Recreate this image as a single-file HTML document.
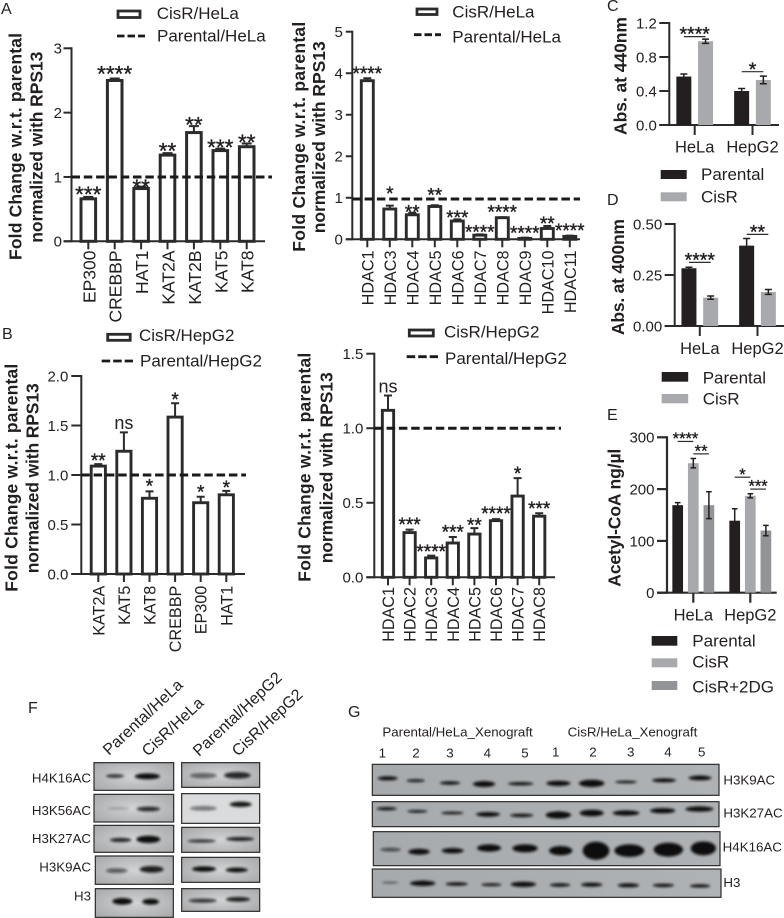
<!DOCTYPE html>
<html lang="en">
<head>
<meta charset="utf-8">
<title>Histone acetylation figure panels</title>
<style>
html,body{margin:0;padding:0;background:#fff;}
svg{display:block;font-family:"Liberation Sans",sans-serif;fill:#231f20;}
.bt{font-weight:bold;font-size:17.5px;}
.lg{font-size:17px;}
.bx{stroke:#2b2b2b;stroke-width:3.6;}
.ft{font-size:13.3px;}
</style>
</head>
<body>
<svg id="fig" xmlns="http://www.w3.org/2000/svg" width="784" height="918" viewBox="0 0 784 918">
<defs>
<filter id="blur" x="-10%" y="-10%" width="120%" height="120%"><feGaussianBlur stdDeviation="3.6"/></filter>
<radialGradient id="fblot" cx="50%" cy="50%" r="70%"><stop offset="0" stop-color="#d2d3d4"/><stop offset="1" stop-color="#a5a7a9"/></radialGradient>
<linearGradient id="gblot" x1="0" x2="1" y1="0" y2="0"><stop offset="0" stop-color="#a6aaad"/><stop offset="1" stop-color="#aeb2b4"/></linearGradient>
</defs>
<rect width="784" height="918" fill="#fff"/>

<g font-size="16">
<text x="1" y="14">A</text>
<text x="2" y="339">B</text>
<text x="607" y="11">C</text>
<text x="607" y="205">D</text>
<text x="607" y="420">E</text>
<text x="28" y="713">F</text>
<text x="348" y="717">G</text>
</g>

<g>
<text class="bt" transform="translate(21.7 260) rotate(-90)" textLength="227">Fold Change w.r.t. parental</text>
<text class="bt" transform="translate(42.5 242.7) rotate(-90)" textLength="191">normalized with RPS13</text>
<text class="bt" transform="translate(305 251.7) rotate(-90)" textLength="230">Fold Change w.r.t. parental</text>
<text class="bt" transform="translate(325 233.3) rotate(-90)" textLength="192">normalized with RPS13</text>
<text class="bt" transform="translate(17.3 591.7) rotate(-90)" textLength="228">Fold Change w.r.t. parental</text>
<text class="bt" transform="translate(38.3 573.3) rotate(-90)" textLength="190">normalized with RPS13</text>
<text class="bt" transform="translate(310.7 581.7) rotate(-90)" textLength="229">Fold Change w.r.t. parental</text>
<text class="bt" transform="translate(332.3 563.3) rotate(-90)" textLength="191">normalized with RPS13</text>
<text class="bt" transform="translate(626.7 135) rotate(-90)" textLength="118">Abs. at 440nm</text>
<text class="bt" transform="translate(624 335) rotate(-90)" textLength="116">Abs. at 400nm</text>
<text class="bt" transform="translate(620.7 586.7) rotate(-90)" textLength="138">Acetyl-CoA ng/µl</text>
</g>

<g>
<rect x="118" y="11" width="22" height="6.5" fill="#fff" stroke="#2b2b2b" stroke-width="2.8"/>
<text class="lg" x="156.7" y="19">CisR/HeLa</text>
<line x1="117" x2="145" y1="36" y2="36" stroke="#1a1a1a" stroke-width="2.8" stroke-dasharray="7.5 3"/>
<text class="lg" x="157" y="41.3">Parental/HeLa</text>
</g>
<g>
<rect x="417" y="9" width="20" height="5.5" fill="#fff" stroke="#2b2b2b" stroke-width="2.8"/>
<text class="lg" x="452.3" y="17.3">CisR/HeLa</text>
<line x1="414" x2="441" y1="34.7" y2="34.7" stroke="#1a1a1a" stroke-width="2.8" stroke-dasharray="7.5 3"/>
<text class="lg" x="452.3" y="42.3">Parental/HeLa</text>
</g>
<g>
<rect x="107.7" y="334.3" width="22.5" height="6" fill="#fff" stroke="#2b2b2b" stroke-width="2.8"/>
<text class="lg" x="139" y="341">CisR/HepG2</text>
<line x1="101.7" x2="133" y1="361" y2="361" stroke="#1a1a1a" stroke-width="2.8" stroke-dasharray="8.5 3"/>
<text class="lg" x="140" y="366.7">Parental/HepG2</text>
</g>
<g>
<rect x="409.3" y="330" width="24" height="6" fill="#fff" stroke="#2b2b2b" stroke-width="2.8"/>
<text class="lg" x="444" y="337.3">CisR/HepG2</text>
<line x1="406.7" x2="438" y1="356.7" y2="356.7" stroke="#1a1a1a" stroke-width="2.8" stroke-dasharray="8.5 3"/>
<text class="lg" x="445" y="364">Parental/HepG2</text>
</g>
<g>
<rect x="660.7" y="170" width="26" height="9" fill="#231f20"/>
<rect x="660.7" y="192.3" width="26" height="9" fill="#a7a9ac"/>
<text class="lg" x="701" y="180">Parental</text>
<text class="lg" x="701" y="202.3">CisR</text>
</g>
<g>
<rect x="661.7" y="372" width="26.5" height="9.7" fill="#231f20"/>
<rect x="661.7" y="394" width="26.5" height="9.3" fill="#a7a9ac"/>
<text class="lg" x="702.7" y="383.3">Parental</text>
<text class="lg" x="702.7" y="404.3">CisR</text>
</g>
<g>
<rect x="651.7" y="636" width="25.6" height="9.7" fill="#231f20"/>
<rect x="651.7" y="658.3" width="25.6" height="9" fill="#a7a9ac"/>
<rect x="651.7" y="681" width="25.6" height="9" fill="#929497"/>
<text class="lg" x="692.3" y="646.7">Parental</text>
<text class="lg" x="692.3" y="667.7">CisR</text>
<text class="lg" x="692.3" y="692.7">CisR+2DG</text>
</g>

<g id="charts"></g>

<g>
<g class="ft">
<text transform="translate(109 756) rotate(-43)" font-size="16">Parental/HeLa</text>
<text transform="translate(148 757) rotate(-43)" font-size="16">CisR/HeLa</text>
<text transform="translate(199 757) rotate(-43)" font-size="16">Parental/HepG2</text>
<text transform="translate(238 757) rotate(-43)" font-size="16">CisR/HepG2</text>
<text x="91" y="782.3" text-anchor="end">H4K16AC</text>
<text x="91" y="815" text-anchor="end">H3K56AC</text>
<text x="91" y="843" text-anchor="end">H3K27AC</text>
<text x="91" y="871.7" text-anchor="end">H3K9AC</text>
<text x="91" y="900.7" text-anchor="end">H3</text>
</g>
<g transform="translate(0 670) scale(.33333)">
<rect class="bx" x="282" y="278" width="239" height="83" fill="url(#fblot)"/>
<rect class="bx" x="282" y="373" width="239" height="83" fill="url(#fblot)"/>
<rect class="bx" x="282" y="466" width="239" height="81" fill="url(#fblot)"/>
<rect class="bx" x="286" y="558" width="234" height="85" fill="url(#fblot)"/>
<rect class="bx" x="286" y="656" width="234" height="86" fill="url(#fblot)"/>
<rect class="bx" x="545" y="278" width="234" height="74" fill="url(#fblot)"/>
<rect class="bx" x="545" y="371" width="234" height="89" fill="#dadbdc"/>
<rect class="bx" x="545" y="472" width="234" height="75" fill="url(#fblot)"/>
<rect class="bx" x="545" y="562" width="234" height="75" fill="url(#fblot)"/>
<rect class="bx" x="545" y="656" width="234" height="68" fill="url(#fblot)"/>
<g filter="url(#blur)" fill="#111">
<ellipse cx="345" cy="318" rx="27" ry="5" opacity=".85"/>
<ellipse cx="442" cy="319" rx="38" ry="9"/>
<ellipse cx="355" cy="415" rx="32" ry="4" opacity=".2"/>
<ellipse cx="445" cy="417" rx="35" ry="7" opacity=".85"/>
<ellipse cx="362" cy="510" rx="32" ry="6" opacity=".9"/>
<ellipse cx="445" cy="508" rx="36" ry="11"/>
<ellipse cx="350" cy="602" rx="32" ry="7" opacity=".6"/>
<ellipse cx="455" cy="598" rx="36" ry="10" opacity=".9"/>
<ellipse cx="367" cy="694" rx="30" ry="10"/>
<ellipse cx="452" cy="695" rx="25" ry="9"/>
<ellipse cx="610" cy="317" rx="40" ry="8" opacity=".55"/>
<ellipse cx="712" cy="316" rx="40" ry="10" opacity=".85"/>
<ellipse cx="610" cy="415" rx="40" ry="7" opacity=".5"/>
<ellipse cx="722" cy="403" rx="33" ry="8" opacity=".95"/>
<ellipse cx="605" cy="513" rx="42" ry="5" opacity=".8"/>
<ellipse cx="720" cy="507" rx="42" ry="6" opacity=".9"/>
<ellipse cx="612" cy="597" rx="36" ry="8"/>
<ellipse cx="710" cy="600" rx="33" ry="7"/>
<ellipse cx="608" cy="692" rx="42" ry="6" opacity=".8"/>
<ellipse cx="714" cy="688" rx="36" ry="7" opacity=".9"/>
</g>
</g>
</g>

<g>
<g transform="translate(350 685) scale(.33333)">
<g font-size="40">
<text x="97" y="155">Parental/HeLa_Xenograft</text>
<text x="653" y="155">CisR/HeLa_Xenograft</text>
<text x="97" y="218" text-anchor="middle">1</text>
<text x="198" y="218" text-anchor="middle">2</text>
<text x="300" y="218" text-anchor="middle">3</text>
<text x="412" y="218" text-anchor="middle">4</text>
<text x="525" y="218" text-anchor="middle">5</text>
<text x="617" y="214" text-anchor="middle">1</text>
<text x="729" y="214" text-anchor="middle">2</text>
<text x="842" y="214" text-anchor="middle">3</text>
<text x="954" y="214" text-anchor="middle">4</text>
<text x="1055" y="214" text-anchor="middle">5</text>
<text x="1120" y="298">H3K9AC</text>
<text x="1120" y="397">H3K27AC</text>
<text x="1118" y="500">H4K16AC</text>
<text x="1120" y="606">H3</text>
</g>
<rect class="bx" x="67" y="238" width="1040" height="93" fill="url(#gblot)"/>
<rect class="bx" x="67" y="350" width="1040" height="75" fill="url(#gblot)"/>
<rect class="bx" x="70" y="440" width="1040" height="102" fill="url(#gblot)"/>
<rect class="bx" x="67" y="552" width="1046" height="85" fill="url(#gblot)"/>
<g filter="url(#blur)" fill="#111">
<ellipse cx="113" cy="280" rx="30" ry="6"/>
<ellipse cx="197" cy="287" rx="27" ry="4"/>
<ellipse cx="300" cy="294" rx="30" ry="5"/>
<ellipse cx="402" cy="297" rx="33" ry="9"/>
<ellipse cx="512" cy="296" rx="38" ry="5"/>
<ellipse cx="625" cy="295" rx="36" ry="8"/>
<ellipse cx="725" cy="295" rx="38" ry="11"/>
<ellipse cx="828" cy="291" rx="32" ry="4"/>
<ellipse cx="942" cy="286" rx="36" ry="6"/>
<ellipse cx="1050" cy="279" rx="34" ry="7"/>
<ellipse cx="110" cy="371" rx="30" ry="5"/>
<ellipse cx="202" cy="379" rx="30" ry="4"/>
<ellipse cx="307" cy="384" rx="33" ry="4"/>
<ellipse cx="414" cy="388" rx="36" ry="7"/>
<ellipse cx="515" cy="391" rx="35" ry="5"/>
<ellipse cx="625" cy="390" rx="38" ry="11"/>
<ellipse cx="725" cy="384" rx="36" ry="10"/>
<ellipse cx="828" cy="384" rx="40" ry="8"/>
<ellipse cx="938" cy="377" rx="38" ry="8"/>
<ellipse cx="1048" cy="372" rx="42" ry="8"/>
<ellipse cx="122" cy="494" rx="30" ry="5" opacity=".7"/>
<ellipse cx="207" cy="500" rx="32" ry="9"/>
<ellipse cx="308" cy="497" rx="33" ry="8"/>
<ellipse cx="417" cy="489" rx="36" ry="11"/>
<ellipse cx="525" cy="490" rx="38" ry="12"/>
<ellipse cx="632" cy="497" rx="35" ry="14"/>
<ellipse cx="738" cy="497" rx="40" ry="27"/>
<ellipse cx="838" cy="497" rx="45" ry="19"/>
<ellipse cx="955" cy="494" rx="44" ry="21"/>
<ellipse cx="1060" cy="490" rx="38" ry="21"/>
<ellipse cx="120" cy="593" rx="25" ry="3" opacity=".5"/>
<ellipse cx="218" cy="595" rx="38" ry="8"/>
<ellipse cx="320" cy="597" rx="33" ry="5"/>
<ellipse cx="424" cy="599" rx="30" ry="4"/>
<ellipse cx="520" cy="598" rx="38" ry="8"/>
<ellipse cx="630" cy="600" rx="30" ry="5"/>
<ellipse cx="725" cy="599" rx="32" ry="6"/>
<ellipse cx="835" cy="601" rx="32" ry="6"/>
<ellipse cx="940" cy="601" rx="32" ry="5"/>
<ellipse cx="1050" cy="603" rx="30" ry="5"/>
</g>
</g>
</g>
</svg>

<script>
// Panel A (left)
const aCategories = ['EP300','CREBBP','HAT1','KAT2A','KAT2B','KAT5','KAT8'];
const aValues = [0.66,2.5,0.82,1.34,1.69,1.41,1.47];
const aErrors = [0.03,0.03,0.03,0.03,0.1,0.03,0.05];
const aSig = ['***','****','**','**','**','***','**'];
const aSigLevels = [0.78,2.65,0.89,1.455,1.86,1.51,1.585];
const aTicks = [0,1,2,3];
const aTickLabels = ['0','1','2','3'];
const aReference = 1;
// Panel A (right)
const a2Categories = ['HDAC1','HDAC3','HDAC4','HDAC5','HDAC6','HDAC7','HDAC8','HDAC9','HDAC10','HDAC11'];
const a2Values = [3.82,0.73,0.59,0.79,0.44,0.1,0.52,0.02,0.26,0.07];
const a2Errors = [0.06,0.08,0.05,0.03,0.04,0.02,0.01,0.02,0.06,0.02];
const a2Sig = ['****','*','**','**','***','****','****','****','**','****'];
const a2SigLevels = [4.06,1.17,0.72,1.13,0.59,0.24,0.72,0.21,0.44,0.28];
const a2Ticks = [0,1,2,3,4,5];
const a2TickLabels = ['0','1','2','3','4','5'];
const a2Reference = 0.97;
// Panel B (left)
const bCategories = ['KAT2A','KAT5','KAT8','CREBBP','EP300','HAT1'];
const bValues = [1.09,1.24,0.765,1.585,0.72,0.8];
const bErrors = [0.02,0.19,0.07,0.14,0.06,0.04];
const bSig = ['**','ns','*','*','*','*'];
const bSigLevels = [1.175,1.465,0.915,1.79,0.855,0.9];
const bTicks = [0,0.5,1,1.5,2];
const bTickLabels = ['0.0','0.5','1.0','1.5','2.0'];
const bReference = 1;
// Panel B (right)
const b2Categories = ['HDAC1','HDAC2','HDAC3','HDAC4','HDAC5','HDAC6','HDAC7','HDAC8'];
const b2Values = [1.12,0.3,0.13,0.23,0.29,0.38,0.545,0.41];
const b2Errors = [0.1,0.02,0.015,0.04,0.04,0.01,0.12,0.02];
const b2Sig = ['ns','***','****','***','**','****','*','***'];
const b2SigLevels = [1.24,0.373,0.19,0.32,0.37,0.445,0.713,0.478];
const b2Ticks = [0,0.5,1,1.5];
const b2TickLabels = ['0.0','0.5','1.0','1.5'];
const b2Reference = 1;
// Panel C
const cGroups = ['HeLa','HepG2'];
const cParental = [0.57,0.4];
const cParentalErr = [0.03,0.03];
const cCisR = [0.985,0.53];
const cCisRErr = [0.025,0.045];
const cTicks = [0,0.4,0.8,1.2];
const cTickLabels = ['0.0','0.4','0.8','1.2'];
const cSig = ['****','*'];
const cSigLevels = [1.04,0.627];
// Panel D
const dGroups = ['HeLa','HepG2'];
const dParental = [0.283,0.394];
const dParentalErr = [0.005,0.035];
const dCisR = [0.139,0.167];
const dCisRErr = [0.008,0.012];
const dTicks = [0,0.25,0.5];
const dTickLabels = ['0.00','0.25','0.50'];
const dSig = ['****','**'];
const dSigLevels = [0.312,0.449];
// Panel E
const eGroups = ['HeLa','HepG2'];
const eParental = [169,139];
const eParentalErr = [5,23];
const eCisR = [250,187];
const eCisRErr = [9,4];
const eCisR2DG = [169,120];
const eCisR2DGErr = [26,10];
const eTicks = [0,100,200,300];
const eTickLabels = ['0','100','200','300'];
const eSig = ['****','**','*','***'];
const eSigLevels = [292,268,223,200];

const SVGNS = 'http://www.w3.org/2000/svg';
const INK = '#2b2b2b';
const STAR_CENTER = 0.48;
const root = document.getElementById('charts');

function mk(tag, attrs, parent) {
  const n = document.createElementNS(SVGNS, tag);
  for (const k in attrs) n.setAttribute(k, attrs[k]);
  parent.appendChild(n);
  return n;
}

function drawAxes(p, g, tickValues, tickLabels, yScale) {
  const yAxis = mk('line', {x1: p.axisX, x2: p.axisX, y1: p.y0 + 1, y2: p.yTop - 1, stroke: INK, 'stroke-width': p.axisW}, g);
  
  
  const xAxis = mk('line', {x1: p.axisX - p.tickLen, x2: p.axisEnd, y1: p.y0, y2: p.y0, stroke: INK, 'stroke-width': p.axisW}, g);
  
  
  tickValues.forEach((t, i) => {
    const tick = mk('line', {x1: p.axisX - p.tickLen, x2: p.axisX, y1: yScale(t), y2: yScale(t), stroke: INK, 'stroke-width': p.axisW}, g);
    
    
    const lab = mk('text', {x: p.axisX - p.tickLen - p.tickGap, y: yScale(t) + 5.4, 'text-anchor': 'end', 'font-size': 15}, g);
    lab.textContent = tickLabels[i];
    
    
  });
}

function drawOutlineChart(p, categories, values, errors, sig, sigLevels, ticks, tickLabels, reference) {
  const g = mk('g', {}, root);
  
  
  const maxV = ticks[ticks.length - 1];
  const yScale = v => p.y0 - v * (p.y0 - p.yTop) / maxV;
  const xScale = i => p.x0 + i * p.step;
  drawAxes(p, g, ticks, tickLabels, yScale);
  categories.forEach((c, i) => {
    const cx = xScale(i);
    const top = yScale(values[i]);
    const bar = mk('rect', {x: cx - p.barW / 2, y: top, width: p.barW, height: Math.max(p.y0 - top, 0), fill: '#fff', stroke: INK, 'stroke-width': p.barStroke}, g);
    
    
    const eTop = yScale(values[i] + errors[i]);
    const err = mk('path', {d: 'M' + cx + ' ' + top + 'V' + eTop + 'M' + (cx - p.cap) + ' ' + eTop + 'H' + (cx + p.cap), stroke: INK, 'stroke-width': 2, fill: 'none'}, g);
    
    
    const tick = mk('line', {x1: cx, x2: cx, y1: p.y0, y2: p.y0 + p.xTickLen, stroke: INK, 'stroke-width': p.axisW}, g);
    
    
    const lab = mk('text', {transform: 'translate(' + (cx + p.labelDx) + ' ' + p.labelTop + ') rotate(-90)', 'text-anchor': 'end', 'font-size': p.labelFont}, g);
    lab.textContent = c;
    
    
    const isNs = sig[i] === 'ns';
    const fs = isNs ? 18 : p.starFont;
    const sy = yScale(sigLevels[i]) + (isNs ? 0 : STAR_CENTER * fs);
    const s = mk('text', {x: cx, y: sy, 'text-anchor': 'middle', 'font-size': fs, stroke: isNs ? 'none' : '#231f20', 'stroke-width': isNs ? 0 : 0.35}, g);
    s.textContent = sig[i];
    
    
  });
  const ref = mk('line', {x1: p.axisX, x2: p.refEnd, y1: yScale(reference), y2: yScale(reference), stroke: '#1a1a1a', 'stroke-width': 3, 'stroke-dasharray': '8.5 3.8'}, g);
  
  
}

function drawGroupedChart(p, groups, series, ticks, tickLabels, sig, sigLevels, sigPairs) {
  const g = mk('g', {}, root);
  
  
  const maxV = ticks[ticks.length - 1];
  const yScale = v => p.y0 - v * (p.y0 - p.yTop) / maxV;
  const xScale = i => p.x0 + i * p.step;
  const barX = (i, j) => xScale(i) + (j - (series.length - 1) / 2) * p.barStep;
  drawAxes(p, g, ticks, tickLabels, yScale);
  groups.forEach((name, i) => {
    series.forEach((s, j) => {
      const cx = barX(i, j);
      const top = yScale(s.values[i]);
      const bar = mk('rect', {x: cx - p.barW / 2, y: top, width: p.barW, height: p.y0 - top, fill: s.color}, g);
      
      
      const up = yScale(s.values[i] + s.errors[i]);
      const dn = yScale(s.values[i] - s.errors[i]);
      const err = mk('path', {d: 'M' + cx + ' ' + up + 'V' + dn + 'M' + (cx - p.cap) + ' ' + up + 'H' + (cx + p.cap) + 'M' + (cx - p.cap) + ' ' + dn + 'H' + (cx + p.cap), stroke: '#231f20', 'stroke-width': 1.5, fill: 'none'}, g);
      
      
    });
    const tick = mk('line', {x1: xScale(i), x2: xScale(i), y1: p.y0, y2: p.y0 + 10, stroke: INK, 'stroke-width': p.axisW}, g);
    
    
    const lab = mk('text', {x: xScale(i), y: p.labelY, 'text-anchor': 'middle', 'font-size': 16.5}, g);
    lab.textContent = name;
    
    
  });
  sig.forEach((label, k) => {
    const pair = sigPairs[k];
    const xa = barX(pair[0], pair[1]);
    const xb = barX(pair[0], pair[2]);
    const ly = yScale(sigLevels[k]);
    const line = mk('line', {x1: xa, x2: xb, y1: ly, y2: ly, stroke: INK, 'stroke-width': 1.2}, g);
    
    
    const t = mk('text', {x: (xa + xb) / 2, y: ly - 5.3 + STAR_CENTER * p.starFont, 'text-anchor': 'middle', 'font-size': p.starFont, stroke: '#231f20', 'stroke-width': 0.35}, g);
    t.textContent = label;
    
    
  });
}

drawOutlineChart({name:'chart-a-hat', axisX:71.5, axisEnd:265, axisW:2, y0:241.3, yTop:48.3, tickLen:8, tickGap:1.5, x0:88.3, step:26.4, barW:14.6, barStroke:3, cap:5, xTickLen:8, labelDx:7, labelTop:250.5, labelFont:17.5, starFont:22.5, refEnd:272}, aCategories, aValues, aErrors, aSig, aSigLevels, aTicks, aTickLabels, aReference);
drawOutlineChart({name:'chart-a-hdac', axisX:352.3, axisEnd:580, axisW:2, y0:239.3, yTop:31.7, tickLen:6.5, tickGap:3, x0:367.3, step:22.5, barW:12, barStroke:2.9, cap:4, xTickLen:8, labelDx:6, labelTop:250.5, labelFont:16.2, starFont:19, refEnd:580}, a2Categories, a2Values, a2Errors, a2Sig, a2SigLevels, a2Ticks, a2TickLabels, a2Reference);
drawOutlineChart({name:'chart-b-hat', axisX:81.3, axisEnd:245, axisW:2, y0:574, yTop:376, tickLen:10, tickGap:3, x0:98.3, step:25.6, barW:14.2, barStroke:2.9, cap:4, xTickLen:8, labelDx:6, labelTop:585.7, labelFont:16.2, starFont:19, refEnd:246}, bCategories, bValues, bErrors, bSig, bSigLevels, bTicks, bTickLabels, bReference);
drawOutlineChart({name:'chart-b-hdac', axisX:374.3, axisEnd:555, axisW:2, y0:577.3, yTop:353.7, tickLen:8, tickGap:3, x0:388, step:21.6, barW:11.3, barStroke:2.9, cap:4, xTickLen:8, labelDx:6, labelTop:587, labelFont:16.2, starFont:19, refEnd:561}, b2Categories, b2Values, b2Errors, b2Sig, b2SigLevels, b2Ticks, b2TickLabels, b2Reference);

drawGroupedChart({name:'chart-c', axisX:669.3, axisEnd:779, axisW:2, y0:125, yTop:23, tickLen:10, tickGap:2.5, x0:694.7, step:57.8, barStep:21.7, barW:15, cap:3.5, labelY:152.7, starFont:19.5}, cGroups, [
  {key:'parental', color:'#231f20', values:cParental, errors:cParentalErr},
  {key:'cisr', color:'#a7a9ac', values:cCisR, errors:cCisRErr}
], cTicks, cTickLabels, cSig, cSigLevels, [[0,0,1],[1,0,1]]);

drawGroupedChart({name:'chart-d', axisX:674.7, axisEnd:784, axisW:2, y0:326, yTop:224, tickLen:10, tickGap:2.5, x0:699.8, step:57.7, barStep:21.7, barW:15, cap:3.5, labelY:354, starFont:19.5}, dGroups, [
  {key:'parental', color:'#231f20', values:dParental, errors:dParentalErr},
  {key:'cisr', color:'#a7a9ac', values:dCisR, errors:dCisRErr}
], dTicks, dTickLabels, dSig, dSigLevels, [[0,0,1],[1,0,1]]);

drawGroupedChart({name:'chart-e', axisX:667, axisEnd:776.7, axisW:2.2, y0:592.7, yTop:437.3, tickLen:10, tickGap:2.5, x0:693.3, step:57, barStep:15.6, barW:10.7, cap:2.8, labelY:620.7, starFont:16.5}, eGroups, [
  {key:'parental', color:'#231f20', values:eParental, errors:eParentalErr},
  {key:'cisr', color:'#a7a9ac', values:eCisR, errors:eCisRErr},
  {key:'cisr-2dg', color:'#929497', values:eCisR2DG, errors:eCisR2DGErr}
], eTicks, eTickLabels, eSig, eSigLevels, [[0,0,1],[0,1,2],[1,0,1],[1,1,2]]);
</script>
</body>
</html>
